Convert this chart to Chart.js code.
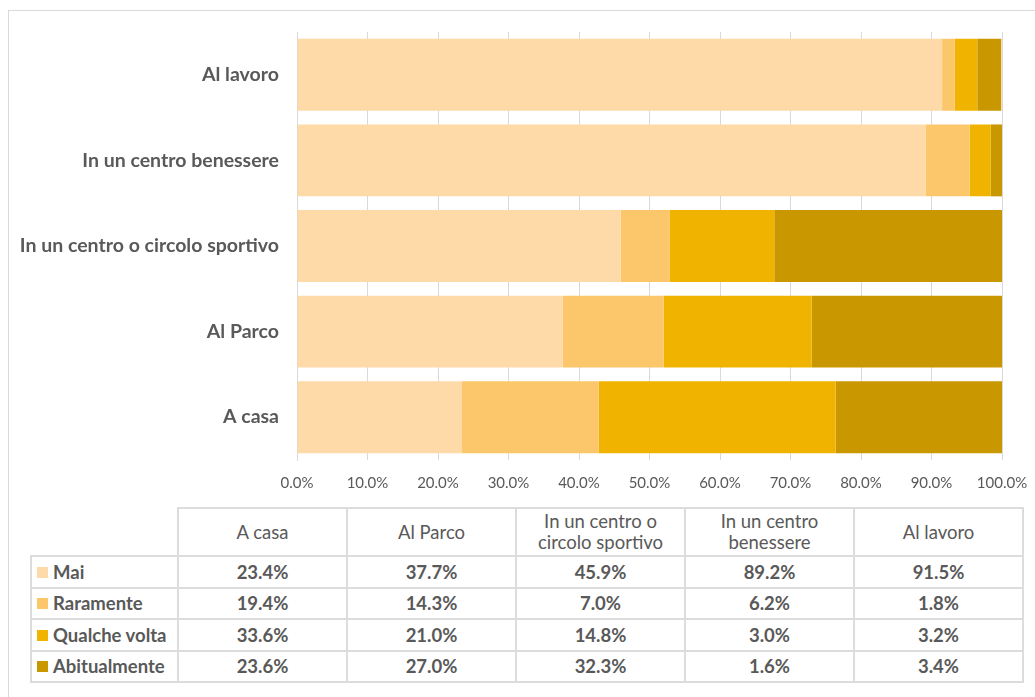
<!DOCTYPE html>
<html>
<head>
<meta charset="utf-8">
<script src="https://cdn.jsdelivr.net/npm/chart.js@4/dist/chart.umd.min.js"></script>
<style>
body { margin:0; background:#fff; font-family: Lato, "Open Sans", sans-serif; }
#frame { position:absolute; left:8px; top:10px; width:1040px; height:700px; border:1px solid #d9d9d9; box-sizing:border-box; }
#wrap { position:absolute; left:0; top:0; width:1035px; height:500px; }
#tbl { position:absolute; left:30px; top:507px; border-collapse:collapse; color:#595959; font-size:18.5px; }
#tbl td, #tbl th { border:2px solid #dcdcdc; text-align:center; padding:0; }
#tbl th { font-weight:normal; height:46px; width:167px; line-height:21px; }
#tbl td { font-weight:bold; height:29.5px; }
#tbl th.blank { border:none; width:146px; }
#tbl td.leg { text-align:left; padding-left:5px; white-space:nowrap; }
.sq { display:inline-block; width:11px; height:11px; margin-right:5px; vertical-align:1px; }
</style>
</head>
<body>
<div id="frame"></div>
<div id="wrap"><canvas id="myChart"></canvas></div>
<table id="tbl"></table>
<script>
var places = ['A casa', 'Al Parco', 'In un centro o circolo sportivo', 'In un centro benessere', 'Al lavoro'];
var headLines = ['A casa', 'Al Parco', 'In un centro o<br>circolo sportivo', 'In un centro<br>benessere', 'Al lavoro'];
var mai = [23.4, 37.7, 45.9, 89.2, 91.5];
var raramente = [19.4, 14.3, 7.0, 6.2, 1.8];
var qualcheVolta = [33.6, 21.0, 14.8, 3.0, 3.2];
var abitualmente = [23.6, 27.0, 32.3, 1.6, 3.4];
var seriesNames = ['Mai', 'Raramente', 'Qualche volta', 'Abitualmente'];
var colors = ['#fddaa8', '#fcc76a', '#f0b300', '#c99700'];

var allSeries = [mai, raramente, qualcheVolta, abitualmente];

// table below the chart
var html = '<tr><th class="blank"></th>';
headLines.forEach(function(h){ html += '<th>' + h + '</th>'; });
html += '</tr>';
allSeries.forEach(function(s, i){
    html += '<tr><td class="leg"><span class="sq" style="background:' + colors[i] + '"></span>' + seriesNames[i] + '</td>';
    s.forEach(function(v){ html += '<td>' + v.toFixed(1) + '%</td>'; });
    html += '</tr>';
});
document.getElementById('tbl').innerHTML = html;

var ctx = document.getElementById('myChart').getContext('2d');
new Chart(ctx, {
    type: 'bar',
    data: {
        labels: places,
        datasets: allSeries.map(function(s, i){
            return { label: seriesNames[i], data: s, backgroundColor: colors[i], borderWidth: 0,
                     barPercentage: 0.84, categoryPercentage: 1 };
        })
    },
    options: {
        indexAxis: 'y',
        responsive: true,
        maintainAspectRatio: false,
        animation: false,
        layout: { padding: { top: 32, right: 33, left: 0, bottom: 0 } },
        plugins: { legend: { display: false }, tooltip: { enabled: false } },
        scales: {
            x: {
                stacked: true, min: 0, max: 100,
                ticks: { stepSize: 10, color: '#595959', font: { family: 'Lato', size: 15 }, padding: 14,
                         callback: function(v){ return v.toFixed(1) + '%'; } },
                grid: { color: '#d9d9d9', lineWidth: 1, drawTicks: false },
                border: { display: false },
                afterFit: function(scale){ scale.height = 40; scale.paddingRight = 0; scale.paddingLeft = 0; }
            },
            y: {
                stacked: true, reverse: true,
                ticks: { color: '#595959', font: { family: 'Lato', size: 19.5, weight: 'bold' }, padding: 10,
                         callback: function(v, i){ return places[v]; } },
                grid: { display: false },
                border: { display: true, color: '#d9d9d9' },
                afterFit: function(scale){ scale.width = 297; }
            }
        }
    }
});
</script>
</body>
</html>
